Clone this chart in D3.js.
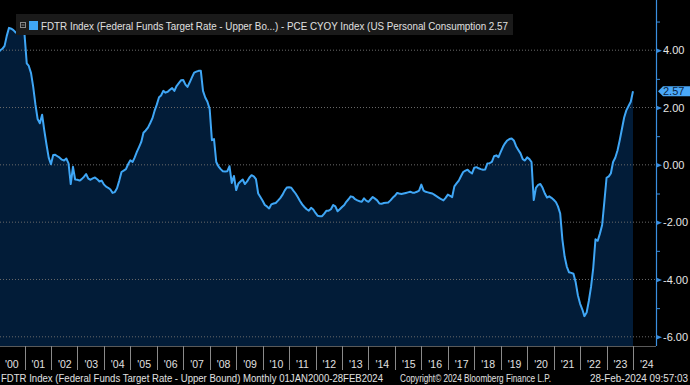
<!DOCTYPE html>
<html lang="en">
  <head>
    <meta charset="utf-8">
    <title>FDTR - PCE CYOY spread</title>
    <style>
      body { margin: 0; background: #000; }
      svg { display: block; }
      text { font-family: 'Liberation Sans', Arial, sans-serif; }
    </style>
  </head>
  <body>
    <div id="chart-area"></div>
    <script src="https://cdn.jsdelivr.net/npm/d3@7"></script>
    <script>
      const svg_width = 690;
      const svg_height = 385;

      // monthly spread, Jan 2000 .. Jan 2024
      const spread_values = [
        3.9, 4.0, 4.05, 4.15, 4.5, 4.78, 4.75, 4.7, 4.62, 4.6, 4.67, 4.6,           // 2000
        4.55, 3.54, 3.45, 3.2, 2.72, 2.1, 1.6, 1.45, 1.75, 1.2, 0.7, 0.25,          // 2001
        0.02, 0.34, 0.35, 0.3, 0.25, 0.18, 0.15, 0.22, 0.05, -0.67, -0.07, -0.51,   // 2002
        -0.52, -0.55, -0.5, -0.42, -0.32, -0.48, -0.52, -0.47, -0.44, -0.5, -0.58, -0.55, // 2003
        -0.68, -0.76, -0.8, -0.86, -0.98, -0.95, -0.82, -0.55, -0.25, -0.2, -0.15, 0.02,  // 2004
        0.16, 0.1, 0.25, 0.45, 0.62, 0.8, 1.12, 1.2, 1.3, 1.45, 1.62, 1.88,         // 2005
        2.1, 2.36, 2.42, 2.58, 2.52, 2.55, 2.62, 2.68, 2.58, 2.75, 2.85, 2.95,      // 2006
        2.96, 2.8, 2.72, 2.88, 3.05, 3.22, 3.25, 3.28, 3.28, 2.58, 2.35, 2.2,       // 2007
        1.95, 0.86, 0.9, 0.1, -0.05, -0.15, -0.22, -0.23, -0.22, -0.05, -0.63, -0.39, // 2008
        -0.88, -0.65, -0.58, -0.51, -0.67, -0.58, -0.45, -0.36, -0.4, -0.5, -1.0, -1.12, // 2009
        -1.25, -1.4, -1.45, -1.52, -1.38, -1.35, -1.33, -1.25, -1.16, -1.05, -0.9, -0.79, // 2010
        -0.78, -0.8, -0.9, -1.0, -1.12, -1.26, -1.38, -1.47, -1.55, -1.6, -1.5, -1.56,    // 2011
        -1.68, -1.78, -1.79, -1.79, -1.7, -1.6, -1.6, -1.55, -1.4, -1.45, -1.62, -1.55,   // 2012
        -1.47, -1.4, -1.29, -1.2, -1.1, -1.12, -1.2, -1.24, -1.27, -1.29, -1.17, -1.25,   // 2013
        -1.29, -1.2, -1.12, -1.18, -1.24, -1.35, -1.36, -1.33, -1.32, -1.31, -1.24, -1.15, // 2014
        -1.08, -0.98, -1.0, -1.02, -1.0, -0.98, -0.96, -0.94, -0.97, -0.97, -0.94, -0.9,  // 2015
        -0.69, -0.9, -0.94, -0.96, -0.98, -1.0, -1.05, -1.1, -1.15, -1.2, -1.24, -1.15,   // 2016
        -1.04, -1.08, -1.13, -0.75, -0.65, -0.55, -0.4, -0.25, -0.2, -0.17, -0.25, -0.3,  // 2017
        -0.1, -0.08, -0.12, -0.15, -0.17, -0.16, 0.05, 0.06, 0.1, 0.3, 0.33, 0.27,        // 2018
        0.45, 0.63, 0.75, 0.85, 0.9, 0.92, 0.85, 0.65, 0.52, 0.4, 0.2, 0.15,              // 2019
        0.26, 0.2, 0.1, -1.23, -0.8, -0.7, -0.67, -0.8, -1.0, -1.14, -1.1, -1.15,        // 2020
        -1.22, -1.3, -1.45, -1.7, -2.6, -3.2, -3.55, -3.75, -3.77, -3.8, -4.1, -4.55,     // 2021
        -4.85, -5.05, -5.28, -5.15, -4.75, -4.25, -3.6, -2.6, -2.65, -2.4, -2.1, -1.3,    // 2022
        -0.45, -0.4, -0.3, 0.1, 0.25, 0.5, 0.85, 1.25, 1.65, 1.9, 2.05, 2.2,             // 2023
        2.57                                                                            // 2024
      ];
      const last_value = 2.57;
      const major_ticks = [4, 2, 0, -2, -4, -6];
      const minor_ticks = [5, 3, 1, -1, -3, -5];
      const legend_text = 'FDTR Index (Federal Funds Target Rate - Upper Bo...) - PCE CYOY Index (US Personal Consumption 2.57';
      const footer_left = 'FDTR Index (Federal Funds Target Rate - Upper Bound)  Monthly 01JAN2000-28FEB2024';
      const footer_mid = 'Copyright\u00a9 2024 Bloomberg Finance L.P.';
      const footer_right = '28-Feb-2024 09:57:03';

      const start_date = new Date(2000, 0, 1);
      const dataset = spread_values.map((v, i) => ({date: d3.timeMonth.offset(start_date, i), value: v}));
      const fmt = v => v.toFixed(2);  //plain hyphen for negatives

      const axis_x = 656;
      const plot_bottom = 346;

      const x_scale = d3.scaleTime()
        .domain([new Date(2000, 0, 1), new Date(2024, 0, 1)])
        .range([-2, 633]);
      const y_scale = d3.scaleLinear()
        .domain([-6, 4])
        .range([336.8, 50.2]);

      const svg = d3.select('#chart-area')
        .append('svg')
        .attr('width', svg_width)
        .attr('height', svg_height)
        .style('background', '#000');

      svg.append('clipPath').attr('id', 'plot-clip')
        .append('rect').attr('x', 0).attr('y', 0).attr('width', axis_x).attr('height', plot_bottom);

      //area under the line
      const area = d3.area()
        .x(d => x_scale(d.date))
        .y0(plot_bottom)
        .y1(d => y_scale(d.value));
      svg.append('path')
        .datum(dataset)
        .attr('clip-path', 'url(#plot-clip)')
        .attr('fill', '#021c38')
        .attr('d', area);

      //dotted grid
      svg.append('g')
        .selectAll('line')
        .data(major_ticks)
        .enter()
        .append('line')
        .attr('x1', 0)
        .attr('x2', axis_x)
        .attr('y1', d => y_scale(d))
        .attr('y2', d => y_scale(d))
        .attr('stroke', '#6a6a6a')
        .attr('stroke-width', 1)
        .attr('stroke-dasharray', '1,2');

      const line = d3.line()
        .x(d => x_scale(d.date))
        .y(d => y_scale(d.value));
      svg.append('path')
        .datum(dataset)
        .attr('clip-path', 'url(#plot-clip)')
        .attr('fill', 'none')
        .attr('stroke', '#3fa6f5')
        .attr('stroke-width', 2)
        .attr('stroke-linejoin', 'round')
        .attr('d', line);

      //bottom border
      svg.append('line')
        .attr('x1', 0).attr('x2', axis_x)
        .attr('y1', plot_bottom + 0.5).attr('y2', plot_bottom + 0.5)
        .attr('stroke', '#5a5a5a');

      //right axis
      const y_axis = svg.append('g')
        .attr('transform', `translate(${axis_x},0)`)
        .call(d3.axisRight(y_scale).tickValues(major_ticks).tickSize(0).tickPadding(7).tickFormat(fmt));
      y_axis.select('.domain').remove();
      y_axis.selectAll('text')
        .attr('fill', '#e6e6e6')
        .attr('font-size', '11px')
        .attr('font-family', "'Liberation Sans', Arial, sans-serif");
      y_axis.selectAll('.tick')
        .append('path')
        .attr('d', 'M0,-2.5L6,0L0,2.5Z')
        .attr('fill', '#3a8fe0');

      const minor_axis = svg.append('g')
        .attr('transform', `translate(${axis_x},0)`)
        .call(d3.axisRight(y_scale).tickValues(minor_ticks).tickSize(4).tickFormat(''));
      minor_axis.select('.domain').remove();
      minor_axis.selectAll('line').attr('stroke', '#3a8fe0');

      svg.append('line')
        .attr('x1', axis_x + 0.5).attr('x2', axis_x + 0.5)
        .attr('y1', 0).attr('y2', plot_bottom)
        .attr('stroke', '#3a8fe0')
        .attr('stroke-width', 1.2);

      //last value tag
      const tag_y = y_scale(last_value);
      svg.append('path')
        .attr('d', `M${axis_x + 2},${tag_y}L${axis_x + 7},${tag_y - 5}L${svg_width},${tag_y - 5}L${svg_width},${tag_y + 5}L${axis_x + 7},${tag_y + 5}Z`)
        .attr('fill', '#4aa8f8');
      svg.append('text')
        .attr('x', 663)
        .attr('y', tag_y + 4)
        .attr('font-size', '11px')
        .attr('fill', '#0b2440')
        .text(fmt(last_value));

      //year separators and labels
      const years = d3.timeYear.range(new Date(2001, 0, 1), new Date(2024, 0, 2));
      svg.append('g')
        .selectAll('line')
        .data(years)
        .enter()
        .append('line')
        .attr('x1', d => Math.round(x_scale(d)) + 0.5)
        .attr('x2', d => Math.round(x_scale(d)) + 0.5)
        .attr('y1', plot_bottom)
        .attr('y2', 370)
        .attr('stroke', '#8a8a8a');

      const label_years = d3.timeYear.range(new Date(2000, 0, 1), new Date(2024, 0, 2));
      svg.append('g')
        .selectAll('text')
        .data(label_years)
        .enter()
        .append('text')
        .attr('x', d => x_scale(d) + 7)
        .attr('y', 367.5)
        .attr('font-size', '10.5px')
        .attr('fill', '#e0e0e0')
        .text(d => d3.timeFormat("'%y")(d));

      //legend
      svg.append('rect')
        .attr('x', 16).attr('y', 14).attr('width', 497).attr('height', 21)
        .attr('fill', '#1a1a1a');
      svg.append('rect')
        .attr('x', 20.5).attr('y', 22.5).attr('width', 5).attr('height', 5)
        .attr('fill', 'none').attr('stroke', '#8a8a8a');
      svg.append('line')
        .attr('x1', 21.5).attr('x2', 24.5).attr('y1', 25).attr('y2', 25)
        .attr('stroke', '#8a8a8a');
      svg.append('rect')
        .attr('x', 29).attr('y', 21).attr('width', 9).attr('height', 9)
        .attr('fill', '#3fa6f5');
      svg.append('text')
        .attr('x', 41)
        .attr('y', 29.5)
        .attr('font-size', '11px')
        .attr('fill', '#e0e0e0')
        .attr('textLength', 467)
        .attr('lengthAdjust', 'spacingAndGlyphs')
        .text(legend_text);

      //footer
      const footer = [
        {x: 1, len: 382, t: footer_left},
        {x: 400, len: 151, t: footer_mid},
        {x: 590, len: 98, t: footer_right}
      ];
      svg.append('g')
        .selectAll('text')
        .data(footer)
        .enter()
        .append('text')
        .attr('x', d => d.x)
        .attr('y', 381.5)
        .attr('font-size', '10px')
        .attr('fill', '#e0e0e0')
        .attr('textLength', d => d.len)
        .attr('lengthAdjust', 'spacingAndGlyphs')
        .text(d => d.t);
    </script>
  </body>
</html>
